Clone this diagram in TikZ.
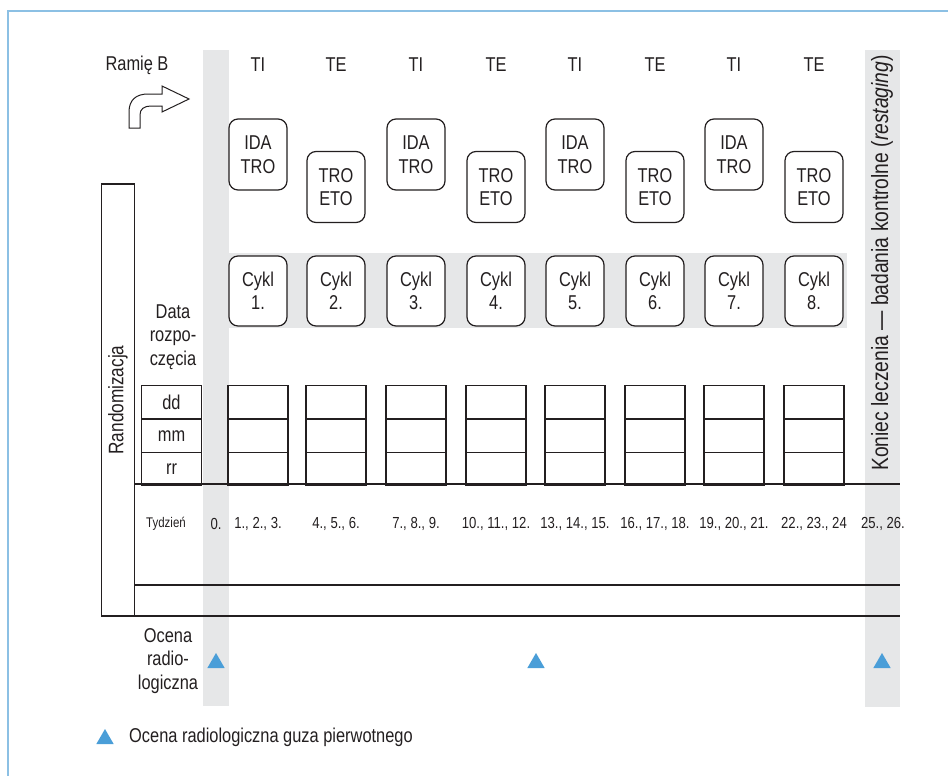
\documentclass[tikz,border=0pt]{standalone}
\usepackage{fontspec}
\setmainfont{Liberation Sans}[FakeStretch=0.82]
\usetikzlibrary{positioning, shapes.geometric}
\definecolor{ink}{HTML}{231F20}
\definecolor{band}{HTML}{E6E7E8}
\definecolor{frameblue}{HTML}{8CC0E4}
\definecolor{triblue}{HTML}{4A9ED8}

\begin{document}
\begin{tikzpicture}[x=1pt, y=-1pt, font=\fontsize{20}{23.5}\selectfont, text=ink,
   drug/.style={rectangle, rounded corners=9pt, draw=ink, line width=1.2pt,
     fill=white, minimum width=58pt, minimum height=71pt, align=center,
     inner sep=2pt},
   datebox/.style={rectangle, draw=ink, line width=1.2pt, fill=white,
     minimum width=60pt, minimum height=33pt, inner sep=0pt},
   lbl/.style={align=center, inner sep=0pt},
   week/.style={inner sep=0pt, font=\fontsize{16}{19}\selectfont},
   tri/.style={regular polygon, regular polygon sides=3, fill=triblue,
     minimum size=20pt, inner sep=0pt},
   rule/.style={draw=ink, line width=1.2pt}]
 \useasboundingbox (0,0) rectangle (948,776);
 \draw[frameblue, line width=1.5pt] (8,776) -- (8,11) -- (948,11);
 % grey bands
 \fill[band] (203,50) rectangle (229,706);
 \fill[band] (865,50) rectangle (900,707);
 \fill[band] (229,253) rectangle (847,328);
 % arm label and bent arrow
 \node[lbl] (arm) at (137,65) {Ramię B};
 \draw[ink, line width=1pt, fill=white] (129,128) -- (129,112)
   .. controls (129,100) and (136,94) .. (148,94) -- (162,94) -- (162,86)
   -- (189,99) -- (162,112) -- (162,106) -- (151,106)
   .. controls (144,106) and (140,109) .. (140,115) -- (140,128) -- cycle;
 % randomisation column
 \node[rectangle, draw=ink, line width=1.2pt, minimum width=33pt,
   minimum height=432pt, inner sep=0pt] (rand) at (118,400) {};
 \node[lbl, rotate=90, font=\fontsize{21}{24}\selectfont] (randtxt) at (rand) {Randomizacja};
 \node[lbl] (start) at (173,337) {Data\\rozpo-\\częcia};
 \node[datebox] (dd) at (171.5,402) {dd};
 \node[datebox, below=0pt of dd] (mm) {mm};
 \node[datebox, below=-1.2pt of mm] (rr) {rr};
 % cycles
 \foreach \x [count=\i] in {258,336,416,496,575,655,734,814} {
   \ifodd\i
     \node[lbl] (arm\i) at (\x,65) {TI};
     \node[drug] (drug\i) at (\x,154.5) {IDA\\TRO};
   \else
     \node[lbl] (arm\i) at (\x,65) {TE};
     \node[drug] (drug\i) at (\x,187) {TRO\\ETO};
   \fi
   \node[drug, minimum height=70pt] (cyc\i) at (\x,291) {Cykl\\\i.};
   \node[datebox] (dd\i) at (\x,402) {};
   \node[datebox, below=0pt of dd\i] (mm\i) {};
   \node[datebox, below=-1.2pt of mm\i] (rr\i) {};
 }
 % weeks
 \draw[rule] (135,484) -- (900,484);
 \draw[rule] (135,585) -- (900,585);
 \draw[rule] (101,616) -- (900,616);
 \node[week, font=\fontsize{14}{16}\selectfont] (wk) at (166,524) {Tydzień};
 \node[week] (w0) at (216,524) {0.};
 \foreach \x/\t [count=\i] in {258/{1., 2., 3.}, 336/{4., 5., 6.}, 416/{7., 8., 9.},
     496/{10., 11., 12.}, 575/{13., 14., 15.}, 655/{16., 17., 18.},
     734/{19., 20., 21.}, 814/{22., 23., 24}}
   \node[week] (w\i) at (\x,524) {\t};
 \node[week] (w9) at (883,524) {25., 26.};
 % end of treatment
 \node[lbl, rotate=90, font=\fontsize{23.5}{26}\selectfont] (endtxt) at (882,263)
   {Koniec leczenia — badania kontrolne (\textit{restaging})};
 % radiological assessment
 \node[lbl] (assess) at (168,661) {Ocena\\radio-\\logiczna};
 \node[tri] (t0) at (216,663) {};
 \node[tri] (t1) at (536,663) {};
 \node[tri] (t2) at (882,663) {};
 % legend
 \node[tri] (tkey) at (105,739) {};
 \node[lbl, anchor=west] (key) at (129,737) {Ocena radiologiczna guza pierwotnego};
\end{tikzpicture}
\end{document}
